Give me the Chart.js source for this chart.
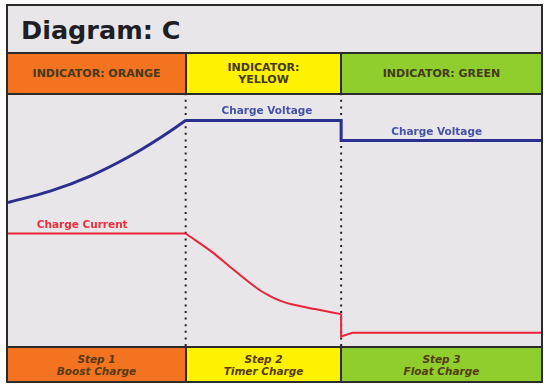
<!DOCTYPE html>
<html>
<head>
<meta charset="utf-8">
<script src="https://cdn.jsdelivr.net/npm/chart.js@4"></script>
<style>
  body { margin: 0; background: #fff; width: 550px; height: 387px; position: relative; font-family: "DejaVu Sans", Verdana, sans-serif; }
  #frame { position: absolute; left: 6px; top: 4px; width: 533px; height: 375px; border: 2px solid #2b2b2b; background: #e8e6e8; }
  #title { position: absolute; left: 13px; top: 9px; font-size: 25.5px; font-weight: bold; color: #1e1e24; }
  .row { position: absolute; left: 0; width: 533px; display: flex; }
  #header { top: 46px; height: 39px; border-top: 2px solid #2b2b2b; border-bottom: 2px solid #2b2b2b; }
  #footer { top: 340px; height: 33px; border-top: 2px solid #2b2b2b; }
  .cell { display: flex; align-items: center; justify-content: center; text-align: center; font-weight: bold; color: #45391b; }
  #header .cell { font-size: 11px; line-height: 12px; }
  #footer .cell { font-size: 10.5px; line-height: 12px; font-style: italic; color: #553a14; }
  .c1 { width: 177px; background: #f37321; border-right: 2px solid #2b2b2b; }
  .c2 { width: 153px; background: #fff200; border-right: 2px solid #2b2b2b; }
  .c3 { width: 199px; background: #8fce2c; }
  #plot { position: absolute; left: 0; top: 89px; }
</style>
</head>
<body>
<div id="frame">
  <div id="title">Diagram: C</div>
  <div class="row" id="header">
    <div class="cell c1">INDICATOR: ORANGE</div>
    <div class="cell c2">INDICATOR:<br>YELLOW</div>
    <div class="cell c3">INDICATOR: GREEN</div>
  </div>
  <canvas id="plot" width="533" height="251"></canvas>
  <div class="row" id="footer">
    <div class="cell c1">Step 1<br>Boost Charge</div>
    <div class="cell c2">Step 2<br>Timer Charge</div>
    <div class="cell c3">Step 3<br>Float Charge</div>
  </div>
</div>
<script>
// --- data (x: time 0..12, y: level 0..100) ---
const voltageRiseX = [0, 0.95, 1.85, 2.75, 3.42, 4.0];
const voltageRiseY = [57.2, 61.7, 67.7, 75.7, 82.9, 89.8];
const voltageStepX = [4.0, 7.5, 7.5, 12];
const voltageStepY = [89.8, 89.8, 81.9, 81.9];

const currentBulkX = [0, 4.0];
const currentBulkY = [44.8, 44.8];
const currentTaperX = [4.0, 4.62, 5.0, 5.45, 5.67, 5.9, 6.12, 6.46, 6.91, 7.5];
const currentTaperY = [44.8, 37.1, 31.5, 25.1, 22.2, 19.9, 18.1, 16.3, 14.7, 12.7];
const currentFloatX = [7.5, 7.5, 7.76, 12];
const currentFloatY = [12.7, 3.8, 5.3, 5.3];

const stageBounds = [4.0, 7.5];

const labelText = ['Charge Voltage', 'Charge Voltage', 'Charge Current'];
const labelX = [5.83, 9.65, 1.67];
const labelY = [93.6, 85.3, 48.2];
const labelSeries = ['voltage', 'voltage', 'current'];

const blue = '#2b2f8e';
const red = '#e8243a';
const labelColors = { voltage: '#4352a6', current: '#e8303c' };

function pts(xs, ys) { return xs.map((x, i) => ({ x: x, y: ys[i] })); }

function lineSet(xs, ys, color, width, smooth) {
    return {
        data: pts(xs, ys), borderColor: color, borderWidth: width,
        cubicInterpolationMode: smooth ? 'monotone' : 'default', tension: 0,
        pointRadius: 0, order: 1
    };
}

const datasets = [
    lineSet(voltageRiseX, voltageRiseY, blue, 3, true),
    lineSet(voltageStepX, voltageStepY, blue, 3, false),
    lineSet(currentBulkX, currentBulkY, red, 2, false),
    lineSet(currentTaperX, currentTaperY, red, 2, true),
    lineSet(currentFloatX, currentFloatY, red, 2, false)
];
stageBounds.forEach(b => {
    datasets.push({
        data: [{ x: b, y: 0 }, { x: b, y: 100 }], borderColor: '#222', borderWidth: 2,
        borderDash: [2, 4.6], pointRadius: 0, order: 2
    });
});

// text labels placed through the scales
const curveLabels = {
    id: 'curveLabels',
    afterDatasetsDraw(chart) {
        const ctx = chart.ctx, sx = chart.scales.x, sy = chart.scales.y;
        ctx.save();
        ctx.font = 'bold 10.5px "DejaVu Sans"';
        ctx.textAlign = 'center';
        ctx.textBaseline = 'middle';
        labelText.forEach((t, i) => {
            ctx.fillStyle = labelColors[labelSeries[i]];
            ctx.fillText(t, sx.getPixelForValue(labelX[i]), sy.getPixelForValue(labelY[i]));
        });
        ctx.restore();
    }
};

new Chart(document.getElementById('plot').getContext('2d'), {
    type: 'line',
    data: { datasets: datasets },
    options: {
        responsive: false, animation: false, devicePixelRatio: 1,
        layout: { padding: 0 },
        scales: {
            x: { type: 'linear', min: 0, max: 12, display: false },
            y: { min: 0, max: 100, display: false }
        },
        plugins: { legend: { display: false }, tooltip: { enabled: false } }
    },
    plugins: [curveLabels]
});
</script>
</body>
</html>
